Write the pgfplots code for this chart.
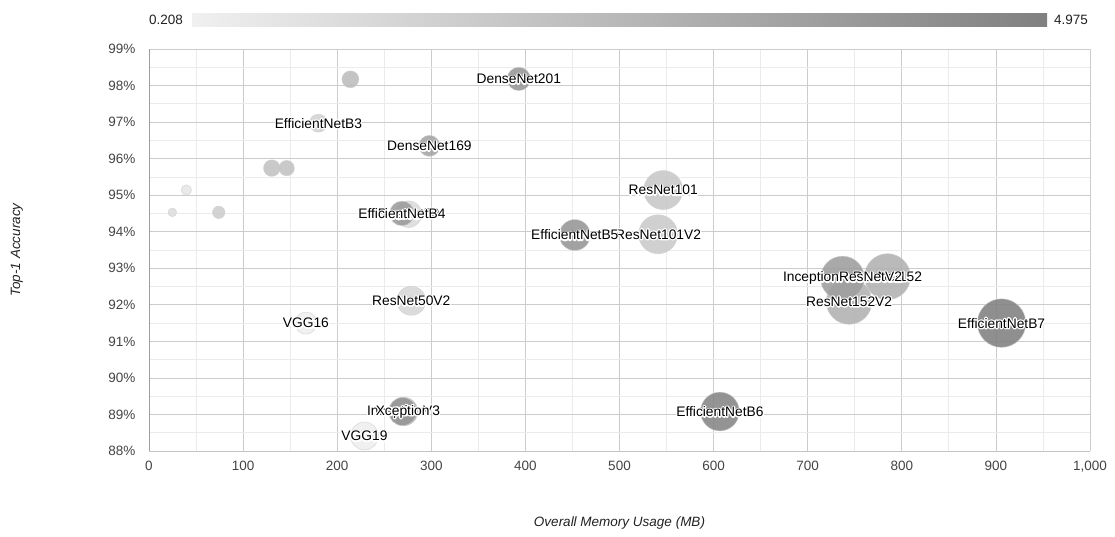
\documentclass[border=0pt]{standalone}
\usepackage{pgfplots}
\pgfplotsset{compat=1.18}
\usepackage{pgfplotstable}
\usepackage{fontspec}
\setmainfont{Liberation Sans}
\definecolor{tickc}{HTML}{444444}
\definecolor{ttlc}{HTML}{222222}
\definecolor{majgrid}{HTML}{CCCCCC}
\definecolor{mingrid}{HTML}{EBEBEB}
\definecolor{ylinec}{HTML}{9E9E9E}
\definecolor{xlinec}{HTML}{C4C4C4}
\definecolor{bubedge}{HTML}{CFCFCF}

\newcommand\halo[1]{\leavevmode
  \rlap{\textcolor{white}{\special{pdf:literal direct 2 Tr 2.6 w 1 J 1 j}#1\special{pdf:literal direct 0 Tr}}}%
  #1}

\pgfplotstableread{
name x y r c
EfficientNetB7 906.0 91.50 24.3 4.975
ResNet152 784.8 92.77 23.0 2.90
ResNet152V2 744.0 92.09 22.8 2.90
InceptionResNetV2 737.0 92.73 22.0 3.70
ResNet101 546.5 95.14 19.5 1.95
ResNet101V2 541.0 93.93 19.5 1.80
EfficientNetB6 606.7 89.08 19.4 4.75
EfficientNetB5 452.5 93.91 15.5 4.05
ResNet50V2 278.7 92.11 14.5 1.30
InceptionV3 270.5 89.08 14.3 3.00
VGG19 229.0 88.41 14.0 0.30
Xception 269.5 89.08 14.0 4.00
ResNet50 275.8 94.48 13.3 1.10
EfficientNetB4 268.8 94.50 12.3 3.80
DenseNet201 393.0 98.18 11.7 4.00
VGG16 166.7 91.50 11.0 0.25
DenseNet169 298.0 96.35 10.5 3.40
EfficientNetB3 180.0 96.97 9.0 1.50
{} 214.0 98.17 8.5 2.40
{} 130.5 95.74 8.3 2.20
{} 146.3 95.74 7.7 2.20
{} 74.1 94.53 6.2 1.70
{} 39.7 95.14 5.2 0.65
{} 24.8 94.53 4.3 1.00
}\data

\begin{document}
\begin{tikzpicture}
\useasboundingbox (0,0) rectangle (1115pt,537pt);
\begin{axis}[
  at={(149pt,86pt)}, anchor=south west,
  scale only axis, width=941pt, height=402pt,
  xmin=0, xmax=1000, ymin=88, ymax=99,
  xtick={0,100,...,1000},
  xticklabels={0,100,200,300,400,500,600,700,800,900,{1,000}},
  ytick={88,89,...,99},
  yticklabels={88\%,89\%,90\%,91\%,92\%,93\%,94\%,95\%,96\%,97\%,98\%,99\%},
  minor xtick={50,150,...,950},
  minor ytick={88.5,89.5,...,98.5},
  grid=both,
  major grid style={draw=majgrid, line width=0.8pt},
  minor grid style={draw=mingrid, line width=0.8pt},
  axis lines=left,
  axis line style={-},
  x axis line style={draw=xlinec, line width=0.8pt},
  y axis line style={draw=ylinec, line width=0.8pt},
  major tick length=0pt, minor tick length=0pt,
  /pgf/number format/assume math mode=true,
  xticklabel style={font=\fontsize{13.5}{16}\selectfont, text=tickc, yshift=-7pt},
  yticklabel style={font=\fontsize{13.5}{16}\selectfont, text=tickc, xshift=-10pt},
  xlabel={Overall Memory Usage (MB)},
  ylabel={Top-1 Accuracy},
  xlabel style={font=\fontsize{13.5}{16}\selectfont\itshape, text=ttlc, at={(axis description cs:0.5,-0.179)}, anchor=center},
  ylabel style={font=\fontsize{13.5}{16}\selectfont\itshape, text=ttlc, at={(axis description cs:-0.1403,0.5)}, anchor=center},
  colormap={gg}{rgb255=(240,240,240) rgb255=(128,128,128)},
  point meta min=0.208, point meta max=4.975,
  colorbar horizontal,
  colorbar style={
    at={(parent axis.north west)}, anchor=south west,
    xshift=42pt, yshift=31pt,
    scale only axis, width=856pt, height=13.3pt,
    xtick=\empty, ytick=\empty, minor xtick={}, minor ytick={},
    grid=none,
    axis line style={draw=none},
    xlabel={}, ylabel={},
    extra description/.code={
      \node[anchor=east, font=\fontsize{13.5}{16}\selectfont, text=ttlc, inner sep=0pt] at ([xshift=-8pt]rel axis cs:0,0.5) {0.208};
      \node[anchor=west, font=\fontsize{13.5}{16}\selectfont, text=ttlc, inner sep=0pt] at ([xshift=7pt]rel axis cs:1,0.5) {4.975};
    },
  },
]
\addplot[scatter, only marks, mark=*,
  scatter src=explicit,
  scatter/use mapped color={draw=bubedge, fill=mapped color},
  visualization depends on={\thisrow{r} \as \rad},
  scatter/@pre marker code/.append style={/tikz/mark size=\rad pt},
  mark options={line width=0.6pt, fill opacity=0.88, draw opacity=0.7}]
  table[x=x, y=y, meta=c] {\data};
\addplot[only marks, mark=none,
  point meta=explicit symbolic,
  nodes near coords={\halo{\pgfplotspointmeta}},
  every node near coord/.append style={anchor=center, font=\fontsize{13.8}{16}\selectfont, text=black, inner sep=0pt}]
  table[x=x, y=y, meta=name] {\data};
\end{axis}
\end{tikzpicture}
\end{document}
